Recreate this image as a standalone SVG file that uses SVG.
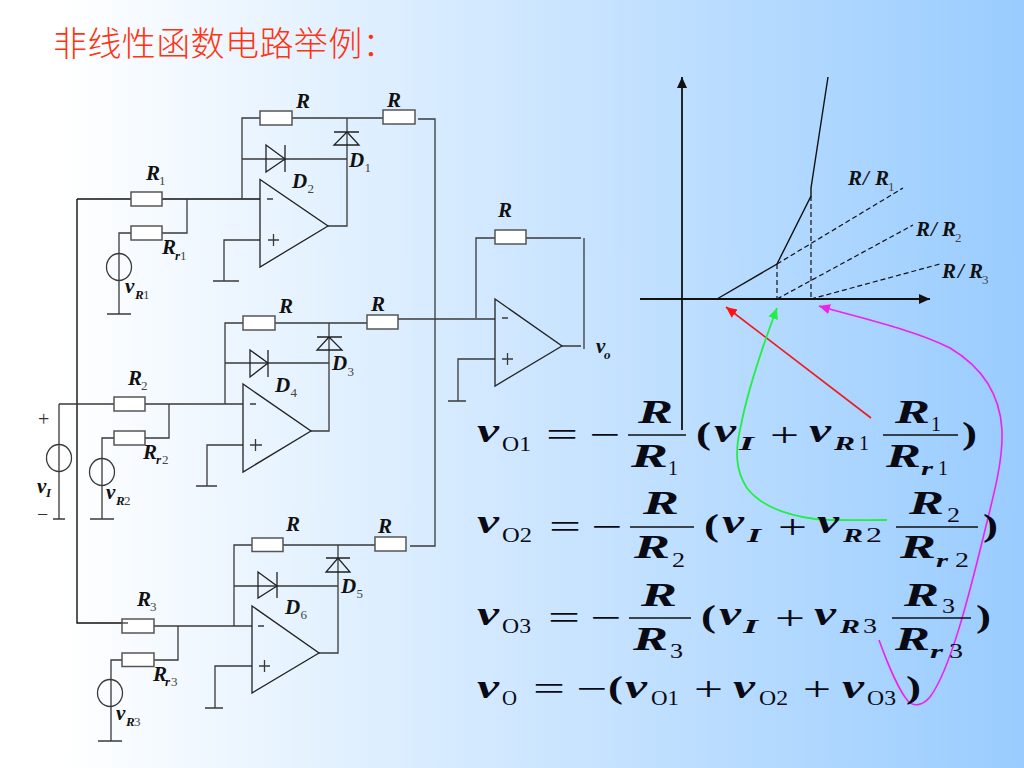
<svg xmlns="http://www.w3.org/2000/svg" width="1024" height="768" viewBox="0 0 1024 768">
<style>
.w{fill:none;stroke:#3a3a3a;stroke-width:1.3}
.k{fill:none;stroke:#111;stroke-width:1.4}
.d{fill:none;stroke:#111;stroke-width:1.2;stroke-dasharray:5 3}
.a{fill:none;stroke:#111;stroke-width:1.8}
.res{fill:#fff;stroke:#555;stroke-width:1.5}
.tri{fill:none;stroke:#222;stroke-width:1.3}
text{font-family:"Liberation Serif",serif;fill:#111}
.b{font-weight:bold;font-style:italic}
.s{font-size:21px}
.t{font-size:13px;fill:#444}
.u{font-size:13px;font-weight:bold;font-style:italic}
.m{font-size:33px;fill:#0a0a14}
.n{font-size:20px;fill:#0a0a14}
.o{font-size:34px;fill:#0a0a14}
.i{font-size:18px;font-weight:bold;font-style:italic;fill:#0a0a14}
.p{font-size:31px;font-weight:bold;fill:#0a0a14}
.h{font-size:20px;fill:#333}
.title{font-family:"Noto Sans CJK SC",sans-serif;font-size:34px;letter-spacing:0.4px;fill:#ff3311;font-weight:300}
</style>
<defs>
<linearGradient id="bg" x1="0" y1="0" x2="1" y2="0"><stop offset="0.06" stop-color="#fff"/><stop offset="1" stop-color="#99ccff"/></linearGradient>
<marker id="ak" markerUnits="userSpaceOnUse" markerWidth="12" markerHeight="10" refX="11" refY="5" orient="auto"><path d="M0 0L11 5L0 10Z" fill="#111"/></marker>
<marker id="ar" markerUnits="userSpaceOnUse" markerWidth="12" markerHeight="10" refX="11" refY="5" orient="auto"><path d="M0 0L11 5L0 10Z" fill="#ff1111"/></marker>
<marker id="ag" markerUnits="userSpaceOnUse" markerWidth="12" markerHeight="10" refX="11" refY="5" orient="auto"><path d="M0 0L11 5L0 10Z" fill="#22ee44"/></marker>
<marker id="am" markerUnits="userSpaceOnUse" markerWidth="12" markerHeight="10" refX="11" refY="5" orient="auto"><path d="M0 0L11 5L0 10Z" fill="#ee22ee"/></marker>
</defs>
<rect width="1024" height="768" fill="url(#bg)"/>
<text class="title" x="53" y="56">非线性函数电路举例：</text>

<g id="connectors">
<path class="k" d="M77 199H260M77 199V623H128"/>
<path class="w" d="M59 404H243M59 404V519M53 519H65"/>
<path class="w" d="M154 626H252"/>
<path class="w" d="M187 199V233H162M131 233H119V314M107 314H131"/>
<path class="w" d="M260 240H224V281M213 281H239"/>
<path class="w" d="M242 199V118H383M347 118V226H328M242 159H347"/>
<path class="w" d="M418 119H435V546H410"/>
<path class="w" d="M169 404V438H145M114 438H102V519M90 519H114"/>
<path class="w" d="M243 445H207V486M196 486H217"/>
<path class="w" d="M225 404V323H367M329 323V431H311M225 363H329"/>
<path class="w" d="M398 319H495"/>
<path class="w" d="M178 626V660H154M122 660H111V741M98 741H122"/>
<path class="w" d="M252 666H215V708M205 708H223"/>
<path class="w" d="M234 626V545H375M338 545V653H319M234 586H338"/>
<path class="w" d="M476 318V238H495M526 238H581M584 238V349M562 346H581"/>
<path class="w" d="M495 359H458V401M448 401H466"/>
<path class="a" d="M682 430V77" marker-end="url(#ak)"/>
<path class="a" d="M640 299H930" marker-end="url(#ak)"/>
<path class="k" d="M717 299L777 264L811 196L811 188L828 77"/>
<path class="d" d="M777 264V299M811 196V299M777 264L903 188M777 299L913 225M811 299L940 264"/>
<path d="M871 418L726 307" fill="none" stroke="#ee1c1c" stroke-width="1.6" marker-end="url(#ar)"/>
<path d="M887 520C860 520 835 521 815 519C785 515 760 505 747 488C735 470 735 450 741 425C748 390 765 340 777 308" fill="none" stroke="#22ee44" stroke-width="1.8" marker-end="url(#ag)"/>
<path d="M879 640C888 665 900 692 908 701C914 707 922 706 930 697C950 670 968 600 985 530C995 490 1003 460 1002 430C1000 395 982 367 950 348C915 330 860 318 819 306" fill="none" stroke="#ee22ee" stroke-width="1.6" marker-end="url(#am)"/>
</g>

<g id="source-vI"><ellipse class="w" cx="59" cy="458" rx="12.5" ry="13.5"/></g>
<g id="source-vR1"><ellipse class="w" cx="119" cy="267" rx="12.5" ry="13.5"/></g>
<g id="source-vR2"><ellipse class="w" cx="102" cy="472" rx="12.5" ry="13.5"/></g>
<g id="source-vR3"><ellipse class="w" cx="110" cy="693" rx="12.5" ry="13.5"/></g>

<g id="res-R1"><rect class="res" x="131" y="192" width="31" height="14"/></g>
<g id="res-Rr1"><rect class="res" x="131" y="226" width="31" height="14"/></g>
<g id="res-R1a"><rect class="res" x="260" y="111" width="32" height="14"/></g>
<g id="res-R1b"><rect class="res" x="383" y="110" width="32" height="14"/></g>
<g id="res-R2"><rect class="res" x="114" y="397" width="31" height="14"/></g>
<g id="res-Rr2"><rect class="res" x="114" y="431" width="31" height="14"/></g>
<g id="res-R2a"><rect class="res" x="243" y="316" width="32" height="14"/></g>
<g id="res-R2b"><rect class="res" x="367" y="315" width="31" height="14"/></g>
<g id="res-R3"><rect class="res" x="122" y="619" width="32" height="14"/><path class="w" d="M122 623H128"/></g>
<g id="res-Rr3"><rect class="res" x="122" y="653" width="32" height="13.5"/></g>
<g id="res-R3a"><rect class="res" x="252" y="538" width="31" height="13.5"/></g>
<g id="res-R3b"><rect class="res" x="375" y="537" width="31" height="14"/></g>
<g id="res-Rf"><rect class="res" x="495" y="230" width="31" height="14"/></g>

<g id="D1"><path class="tri" d="M334 145H359L347 132ZM334 132H359"/></g>
<g id="D2"><path class="tri" d="M266 145V172L285 159ZM285 145V172"/></g>
<g id="D3"><path class="tri" d="M317 350H342L329 337ZM317 337H342"/></g>
<g id="D4"><path class="tri" d="M250 350V377L268 363ZM268 350V377"/></g>
<g id="D5"><path class="tri" d="M326 572H350L338 558ZM326 558H350"/></g>
<g id="D6"><path class="tri" d="M258 572V598L277 586ZM277 572V598"/></g>

<g id="opamp1"><path class="tri" d="M260 179.500V267L328 226Z"/><path class="w" d="M267 199H273M268 240H279M273.500 234V246"/></g>
<g id="opamp2"><path class="tri" d="M243 384V472L311 431Z"/><path class="w" d="M250 404H256M250 445H262M255.500 439V451"/></g>
<g id="opamp3"><path class="tri" d="M252 606V693L319 653Z"/><path class="w" d="M258 626H264M259 666H270M264.500 660V672"/></g>
<g id="opamp4"><path class="tri" d="M495 299V386L562 346Z"/><path class="w" d="M502 318H508M502 359H513M507.500 353V365"/></g>

<g id="labels">
<text class="b s" x="296" y="108">R</text><text class="b s" x="387" y="107">R</text>
<text class="b s" x="146" y="180">R</text><text class="t" x="159" y="185">1</text>
<text class="b s" x="162" y="254">R</text><text class="u" x="175" y="260">r</text><text class="t" x="180" y="260">1</text>
<text class="b s" x="125" y="293">v</text><text class="u" x="135" y="299">R</text><text class="t" x="143" y="299">1</text>
<text class="b s" x="349" y="167">D</text><text class="t" x="364.500" y="172">1</text>
<text class="b s" x="292" y="188">D</text><text class="t" x="307.500" y="193">2</text>

<text class="b s" x="279" y="313">R</text><text class="b s" x="371" y="311">R</text>
<text class="b s" x="128" y="385">R</text><text class="t" x="141" y="390">2</text>
<text class="b s" x="143" y="459">R</text><text class="u" x="156" y="464">r</text><text class="t" x="162" y="464">2</text>
<text class="b s" x="106" y="499">v</text><text class="u" x="116" y="505">R</text><text class="t" x="124" y="505">2</text>
<text class="b s" x="37" y="493">v</text><text class="u" x="46" y="497">I</text>
<text class="h" x="38" y="426">+</text><text class="h" x="37" y="521">−</text>
<text class="b s" x="332" y="370">D</text><text class="t" x="347.500" y="376">3</text>
<text class="b s" x="275" y="392">D</text><text class="t" x="290.500" y="397">4</text>

<text class="b s" x="286" y="531">R</text><text class="b s" x="378" y="533">R</text>
<text class="b s" x="137" y="606">R</text><text class="t" x="150" y="611">3</text>
<text class="b s" x="153" y="681">R</text><text class="u" x="165" y="686">r</text><text class="t" x="171" y="686">3</text>
<text class="b s" x="116" y="720">v</text><text class="u" x="126" y="726">R</text><text class="t" x="134" y="726">3</text>
<text class="b s" x="341" y="593">D</text><text class="t" x="356.500" y="598">5</text>
<text class="b s" x="285" y="614">D</text><text class="t" x="300.500" y="619">6</text>

<text class="b s" x="498" y="217">R</text>
<text class="b s" x="596" y="353">v</text><text class="u" x="604" y="359">o</text>

<text class="b s" x="848" y="185">R</text><text class="b s" x="863" y="185">/</text><text class="b s" x="875" y="185">R</text><text class="t" x="888" y="191">1</text>
<text class="b s" x="916" y="236">R</text><text class="b s" x="931" y="236">/</text><text class="b s" x="942" y="236">R</text><text class="t" x="955" y="242">2</text>
<text class="b s" x="942" y="278">R</text><text class="b s" x="958" y="278">/</text><text class="b s" x="969" y="278">R</text><text class="t" x="982" y="284">3</text>
</g>

<g id="equation1">
<text class="b o" x="477" y="442" textLength="22" lengthAdjust="spacingAndGlyphs">v</text><text class="n" x="502" y="451" textLength="29" lengthAdjust="spacingAndGlyphs">O1</text>
<text class="o" x="546" y="446" textLength="32" lengthAdjust="spacingAndGlyphs">=</text><text class="o" x="589" y="446" textLength="31" lengthAdjust="spacingAndGlyphs">−</text>
<path class="k" d="M628 435H686M883 435H958"/>
<text class="b m" x="638" y="423" textLength="35" lengthAdjust="spacingAndGlyphs">R</text>
<text class="b m" x="631" y="467" textLength="37" lengthAdjust="spacingAndGlyphs">R</text><text class="n" x="668" y="475" textLength="10" lengthAdjust="spacingAndGlyphs">1</text>
<text class="p" x="696" y="444" textLength="15" lengthAdjust="spacingAndGlyphs">(</text>
<text class="b o" x="714" y="442" textLength="22" lengthAdjust="spacingAndGlyphs">v</text><text class="i" x="739" y="450" textLength="15" lengthAdjust="spacingAndGlyphs">I</text>
<text class="o" x="770" y="446" textLength="29" lengthAdjust="spacingAndGlyphs">+</text>
<text class="b o" x="809" y="442" textLength="22" lengthAdjust="spacingAndGlyphs">v</text><text class="i" x="834" y="450" textLength="21" lengthAdjust="spacingAndGlyphs">R</text><text class="n" x="859" y="450" textLength="10" lengthAdjust="spacingAndGlyphs">1</text>
<text class="b m" x="895" y="423" textLength="35" lengthAdjust="spacingAndGlyphs">R</text><text class="n" x="931" y="431" textLength="10" lengthAdjust="spacingAndGlyphs">1</text>
<text class="b m" x="886" y="467" textLength="35" lengthAdjust="spacingAndGlyphs">R</text><text class="i" x="921" y="475" textLength="12" lengthAdjust="spacingAndGlyphs">r</text><text class="n" x="938" y="475" textLength="10" lengthAdjust="spacingAndGlyphs">1</text>
<text class="p" x="962" y="444" textLength="15" lengthAdjust="spacingAndGlyphs">)</text>
</g>

<g id="equation2">
<text class="b o" x="477" y="533" textLength="22" lengthAdjust="spacingAndGlyphs">v</text><text class="n" x="502" y="542" textLength="30" lengthAdjust="spacingAndGlyphs">O2</text>
<text class="o" x="549" y="538" textLength="32" lengthAdjust="spacingAndGlyphs">=</text><text class="o" x="591" y="538" textLength="31" lengthAdjust="spacingAndGlyphs">−</text>
<path class="k" d="M630 527H694M896 527H978"/>
<text class="b m" x="643" y="514" textLength="36" lengthAdjust="spacingAndGlyphs">R</text>
<text class="b m" x="634" y="558" textLength="36" lengthAdjust="spacingAndGlyphs">R</text><text class="n" x="672" y="567" textLength="13" lengthAdjust="spacingAndGlyphs">2</text>
<text class="p" x="704" y="536" textLength="15" lengthAdjust="spacingAndGlyphs">(</text>
<text class="b o" x="722" y="533" textLength="22" lengthAdjust="spacingAndGlyphs">v</text><text class="i" x="747" y="542" textLength="14" lengthAdjust="spacingAndGlyphs">I</text>
<text class="o" x="778" y="538" textLength="29" lengthAdjust="spacingAndGlyphs">+</text>
<text class="b o" x="817" y="533" textLength="22" lengthAdjust="spacingAndGlyphs">v</text><text class="i" x="843" y="542" textLength="20" lengthAdjust="spacingAndGlyphs">R</text><text class="n" x="866" y="542" textLength="16" lengthAdjust="spacingAndGlyphs">2</text>
<text class="b m" x="909" y="514" textLength="35" lengthAdjust="spacingAndGlyphs">R</text><text class="n" x="947" y="522" textLength="13" lengthAdjust="spacingAndGlyphs">2</text>
<text class="b m" x="900" y="558" textLength="36" lengthAdjust="spacingAndGlyphs">R</text><text class="i" x="936" y="567" textLength="12" lengthAdjust="spacingAndGlyphs">r</text><text class="n" x="955" y="567" textLength="14" lengthAdjust="spacingAndGlyphs">2</text>
<text class="p" x="983" y="536" textLength="15" lengthAdjust="spacingAndGlyphs">)</text>
</g>

<g id="equation3">
<text class="b o" x="477" y="625" textLength="22" lengthAdjust="spacingAndGlyphs">v</text><text class="n" x="502" y="633" textLength="29" lengthAdjust="spacingAndGlyphs">O3</text>
<text class="o" x="548" y="629" textLength="32" lengthAdjust="spacingAndGlyphs">=</text><text class="o" x="590" y="629" textLength="31" lengthAdjust="spacingAndGlyphs">−</text>
<path class="k" d="M629 618H691M892 618H971"/>
<text class="b m" x="641" y="606" textLength="36" lengthAdjust="spacingAndGlyphs">R</text>
<text class="b m" x="633" y="650" textLength="35" lengthAdjust="spacingAndGlyphs">R</text><text class="n" x="670" y="658" textLength="13" lengthAdjust="spacingAndGlyphs">3</text>
<text class="p" x="701" y="627" textLength="15" lengthAdjust="spacingAndGlyphs">(</text>
<text class="b o" x="719" y="625" textLength="22" lengthAdjust="spacingAndGlyphs">v</text><text class="i" x="743" y="633" textLength="15" lengthAdjust="spacingAndGlyphs">I</text>
<text class="o" x="775" y="629" textLength="30" lengthAdjust="spacingAndGlyphs">+</text>
<text class="b o" x="814" y="625" textLength="22" lengthAdjust="spacingAndGlyphs">v</text><text class="i" x="840" y="633" textLength="20" lengthAdjust="spacingAndGlyphs">R</text><text class="n" x="863" y="633" textLength="14" lengthAdjust="spacingAndGlyphs">3</text>
<text class="b m" x="904" y="606" textLength="35" lengthAdjust="spacingAndGlyphs">R</text><text class="n" x="942" y="613" textLength="13" lengthAdjust="spacingAndGlyphs">3</text>
<text class="b m" x="895" y="650" textLength="35" lengthAdjust="spacingAndGlyphs">R</text><text class="i" x="930" y="658" textLength="13" lengthAdjust="spacingAndGlyphs">r</text><text class="n" x="949" y="658" textLength="14" lengthAdjust="spacingAndGlyphs">3</text>
<text class="p" x="976" y="627" textLength="15" lengthAdjust="spacingAndGlyphs">)</text>
</g>

<g id="equation4">
<text class="b o" x="477" y="698" textLength="22" lengthAdjust="spacingAndGlyphs">v</text><text class="n" x="502" y="705" textLength="15" lengthAdjust="spacingAndGlyphs">O</text>
<text class="o" x="533" y="700" textLength="32" lengthAdjust="spacingAndGlyphs">=</text><text class="o" x="576" y="700" textLength="31" lengthAdjust="spacingAndGlyphs">−</text>
<text class="p" x="608" y="698" textLength="15" lengthAdjust="spacingAndGlyphs">(</text>
<text class="b o" x="625" y="698" textLength="22" lengthAdjust="spacingAndGlyphs">v</text><text class="n" x="651" y="705" textLength="28" lengthAdjust="spacingAndGlyphs">O1</text>
<text class="o" x="694" y="700" textLength="29" lengthAdjust="spacingAndGlyphs">+</text>
<text class="b o" x="733" y="698" textLength="22" lengthAdjust="spacingAndGlyphs">v</text><text class="n" x="759" y="705" textLength="29" lengthAdjust="spacingAndGlyphs">O2</text>
<text class="o" x="803" y="700" textLength="28" lengthAdjust="spacingAndGlyphs">+</text>
<text class="b o" x="842" y="698" textLength="22" lengthAdjust="spacingAndGlyphs">v</text><text class="n" x="867" y="705" textLength="29" lengthAdjust="spacingAndGlyphs">O3</text>
<text class="p" x="906" y="698" textLength="15" lengthAdjust="spacingAndGlyphs">)</text>
</g>
</svg>
